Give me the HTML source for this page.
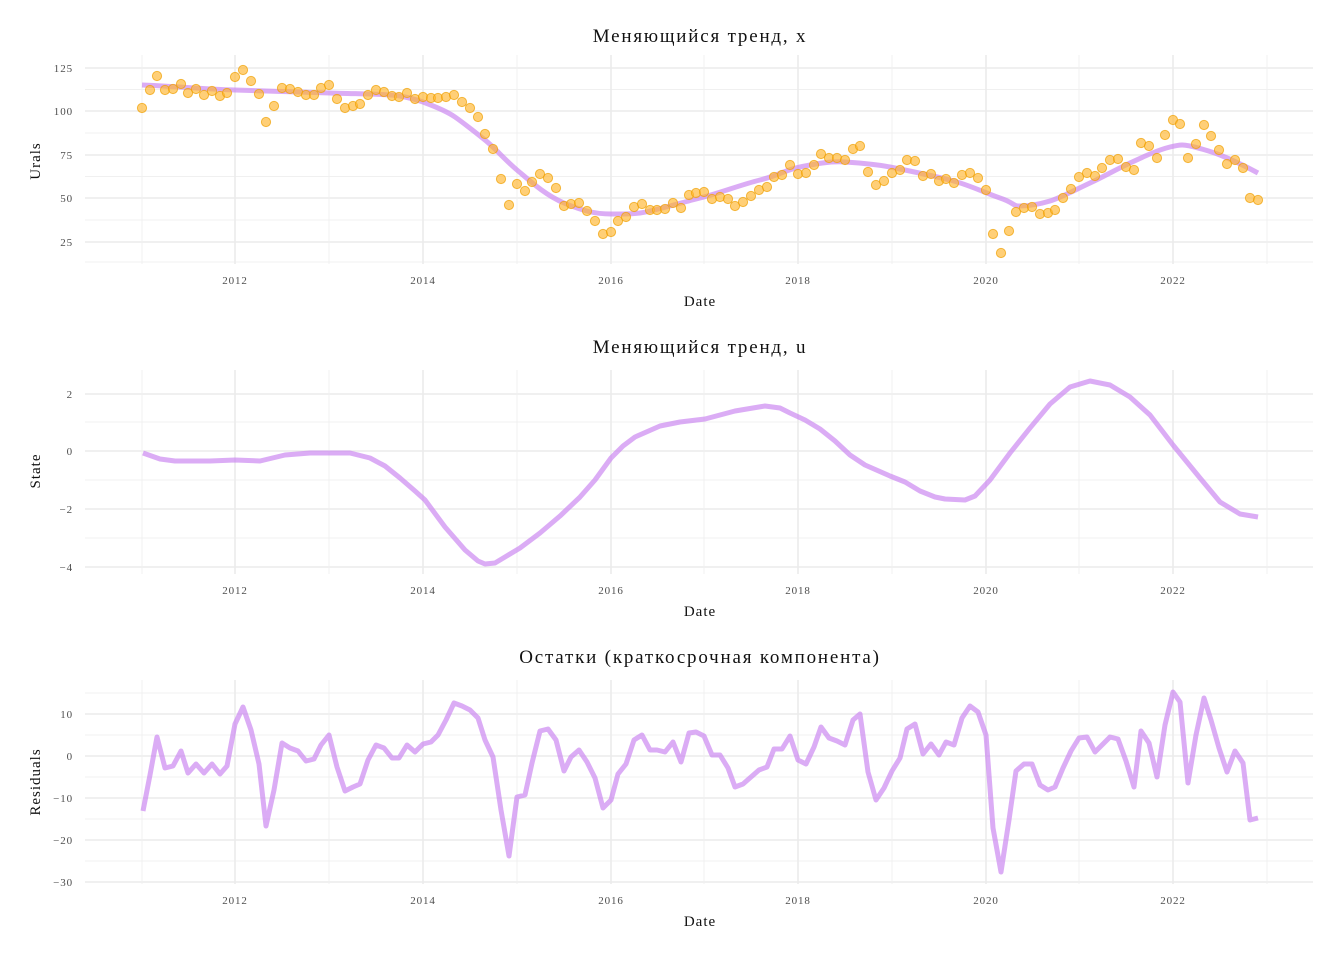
<!DOCTYPE html>
<html><head><meta charset="utf-8"><style>
body{margin:0;background:#fff}
svg{display:block;font-family:"Liberation Serif",serif}
.maj{stroke:#ebebeb;stroke-width:1.6}
.min{stroke:#f0f0f0;stroke-width:0.9}
.tk{font-size:11px;fill:#4d4d4d;letter-spacing:0.9px}
.ttl{font-size:19px;fill:#111;text-anchor:middle;letter-spacing:1.8px}
.ax{font-size:15px;fill:#111;text-anchor:middle;letter-spacing:1px}
.ln{fill:none;stroke:#c77ff0;stroke-opacity:0.65;stroke-width:5;stroke-linejoin:round}
.pt{fill:#ffb52e;fill-opacity:0.65;stroke:#f0a000;stroke-opacity:0.7;stroke-width:1}
</style></head><body>
<svg width="1344" height="960" viewBox="0 0 1344 960">
<!-- Panel 1 -->
<g>
<line class="min" x1="85" x2="1313" y1="89.5" y2="89.5"/><line class="min" x1="85" x2="1313" y1="133" y2="133"/><line class="min" x1="85" x2="1313" y1="176.5" y2="176.5"/><line class="min" x1="85" x2="1313" y1="220" y2="220"/><line class="min" x1="85" x2="1313" y1="262" y2="262"/>
<line class="maj" x1="85" x2="1313" y1="68" y2="68"/><line class="maj" x1="85" x2="1313" y1="111" y2="111"/><line class="maj" x1="85" x2="1313" y1="155" y2="155"/><line class="maj" x1="85" x2="1313" y1="198" y2="198"/><line class="maj" x1="85" x2="1313" y1="242" y2="242"/>
<g class="min"><line x1="142" x2="142" y1="55" y2="264"/><line x1="329" x2="329" y1="55" y2="264"/><line x1="517" x2="517" y1="55" y2="264"/><line x1="704" x2="704" y1="55" y2="264"/><line x1="892" x2="892" y1="55" y2="264"/><line x1="1079" x2="1079" y1="55" y2="264"/><line x1="1267" x2="1267" y1="55" y2="264"/></g>
<g class="maj"><line x1="235" x2="235" y1="55" y2="264"/><line x1="423" x2="423" y1="55" y2="264"/><line x1="611" x2="611" y1="55" y2="264"/><line x1="798" x2="798" y1="55" y2="264"/><line x1="986" x2="986" y1="55" y2="264"/><line x1="1173" x2="1173" y1="55" y2="264"/></g>
<g class="tk" text-anchor="end"><text x="73" y="72">125</text><text x="73" y="115">100</text><text x="73" y="159">75</text><text x="73" y="202">50</text><text x="73" y="246">25</text></g>
<g class="tk" text-anchor="middle"><text x="235" y="284">2012</text><text x="423" y="284">2014</text><text x="611" y="284">2016</text><text x="798" y="284">2018</text><text x="986" y="284">2020</text><text x="1173" y="284">2022</text></g>
<text class="ttl" x="700" y="42">Меняющийся тренд, x</text>
<text class="ax" x="700" y="306">Date</text>
<text class="ax" transform="translate(40,161) rotate(-90)">Urals</text>
<path class="ln" d="M142,85 C190,87 200,89 235,90 S300,92 330,93 S390,94 400,96 S415,99 423,102 S445,110 455,117 S475,132 485,140 S505,160 517,170 S545,195 564,203 S595,214 611,214 S630,214 640,213 S680,203 700,198 S740,185 760,180 S785,170 800,167 S830,161 845,162 S875,164 890,167 S930,175 950,180 S985,193 1000,198 S1012,206 1020,206 S1040,204 1050,201 S1075,190 1090,183 S1115,170 1130,163 S1158,150 1170,147 S1185,145 1190,146 S1210,151 1220,155 S1245,166 1258,173"/>
<g class="pt">
<circle cx="142" cy="108" r="4.6"/><circle cx="150" cy="90" r="4.6"/><circle cx="157" cy="76" r="4.6"/><circle cx="165" cy="90" r="4.6"/><circle cx="173" cy="89" r="4.6"/><circle cx="181" cy="84" r="4.6"/><circle cx="188" cy="93" r="4.6"/><circle cx="196" cy="89" r="4.6"/><circle cx="204" cy="95" r="4.6"/><circle cx="212" cy="91" r="4.6"/><circle cx="220" cy="96" r="4.6"/><circle cx="227" cy="93" r="4.6"/><circle cx="235" cy="77" r="4.6"/><circle cx="243" cy="70" r="4.6"/><circle cx="251" cy="81" r="4.6"/><circle cx="259" cy="94" r="4.6"/><circle cx="266" cy="122" r="4.6"/><circle cx="274" cy="106" r="4.6"/><circle cx="282" cy="88" r="4.6"/><circle cx="290" cy="89" r="4.6"/><circle cx="298" cy="92" r="4.6"/><circle cx="306" cy="95" r="4.6"/><circle cx="314" cy="95" r="4.6"/><circle cx="321" cy="88" r="4.6"/><circle cx="329" cy="85" r="4.6"/><circle cx="337" cy="99" r="4.6"/><circle cx="345" cy="108" r="4.6"/><circle cx="353" cy="106" r="4.6"/><circle cx="360" cy="104" r="4.6"/><circle cx="368" cy="95" r="4.6"/><circle cx="376" cy="90" r="4.6"/><circle cx="384" cy="92" r="4.6"/><circle cx="392" cy="96" r="4.6"/><circle cx="399" cy="97" r="4.6"/><circle cx="407" cy="93" r="4.6"/><circle cx="415" cy="99" r="4.6"/><circle cx="423" cy="97" r="4.6"/><circle cx="431" cy="98" r="4.6"/><circle cx="438" cy="98" r="4.6"/><circle cx="446" cy="97" r="4.6"/><circle cx="454" cy="95" r="4.6"/><circle cx="462" cy="102" r="4.6"/><circle cx="470" cy="108" r="4.6"/><circle cx="478" cy="117" r="4.6"/><circle cx="485" cy="134" r="4.6"/><circle cx="493" cy="149" r="4.6"/><circle cx="501" cy="179" r="4.6"/><circle cx="509" cy="205" r="4.6"/><circle cx="517" cy="184" r="4.6"/><circle cx="525" cy="191" r="4.6"/><circle cx="532" cy="182" r="4.6"/><circle cx="540" cy="174" r="4.6"/><circle cx="548" cy="178" r="4.6"/><circle cx="556" cy="188" r="4.6"/><circle cx="564" cy="206" r="4.6"/><circle cx="571" cy="204" r="4.6"/><circle cx="579" cy="203" r="4.6"/><circle cx="587" cy="211" r="4.6"/><circle cx="595" cy="221" r="4.6"/><circle cx="603" cy="234" r="4.6"/><circle cx="611" cy="232" r="4.6"/><circle cx="618" cy="221" r="4.6"/><circle cx="626" cy="217" r="4.6"/><circle cx="634" cy="207" r="4.6"/><circle cx="642" cy="204" r="4.6"/><circle cx="650" cy="210" r="4.6"/><circle cx="657" cy="210" r="4.6"/><circle cx="665" cy="209" r="4.6"/><circle cx="673" cy="203" r="4.6"/><circle cx="681" cy="208" r="4.6"/><circle cx="689" cy="195" r="4.6"/><circle cx="696" cy="193" r="4.6"/><circle cx="704" cy="192" r="4.6"/><circle cx="712" cy="199" r="4.6"/><circle cx="720" cy="197" r="4.6"/><circle cx="728" cy="199" r="4.6"/><circle cx="735" cy="206" r="4.6"/><circle cx="743" cy="202" r="4.6"/><circle cx="751" cy="196" r="4.6"/><circle cx="759" cy="190" r="4.6"/><circle cx="767" cy="187" r="4.6"/><circle cx="774" cy="177" r="4.6"/><circle cx="782" cy="175" r="4.6"/><circle cx="790" cy="165" r="4.6"/><circle cx="798" cy="174" r="4.6"/><circle cx="806" cy="173" r="4.6"/><circle cx="814" cy="165" r="4.6"/><circle cx="821" cy="154" r="4.6"/><circle cx="829" cy="158" r="4.6"/><circle cx="837" cy="158" r="4.6"/><circle cx="845" cy="160" r="4.6"/><circle cx="853" cy="149" r="4.6"/><circle cx="860" cy="146" r="4.6"/><circle cx="868" cy="172" r="4.6"/><circle cx="876" cy="185" r="4.6"/><circle cx="884" cy="181" r="4.6"/><circle cx="892" cy="173" r="4.6"/><circle cx="900" cy="170" r="4.6"/><circle cx="907" cy="160" r="4.6"/><circle cx="915" cy="161" r="4.6"/><circle cx="923" cy="176" r="4.6"/><circle cx="931" cy="174" r="4.6"/><circle cx="939" cy="181" r="4.6"/><circle cx="946" cy="179" r="4.6"/><circle cx="954" cy="183" r="4.6"/><circle cx="962" cy="175" r="4.6"/><circle cx="970" cy="173" r="4.6"/><circle cx="978" cy="178" r="4.6"/><circle cx="986" cy="190" r="4.6"/><circle cx="993" cy="234" r="4.6"/><circle cx="1001" cy="253" r="4.6"/><circle cx="1009" cy="231" r="4.6"/><circle cx="1016" cy="212" r="4.6"/><circle cx="1024" cy="208" r="4.6"/><circle cx="1032" cy="207" r="4.6"/><circle cx="1040" cy="214" r="4.6"/><circle cx="1048" cy="213" r="4.6"/><circle cx="1055" cy="210" r="4.6"/><circle cx="1063" cy="198" r="4.6"/><circle cx="1071" cy="189" r="4.6"/><circle cx="1079" cy="177" r="4.6"/><circle cx="1087" cy="173" r="4.6"/><circle cx="1095" cy="176" r="4.6"/><circle cx="1102" cy="168" r="4.6"/><circle cx="1110" cy="160" r="4.6"/><circle cx="1118" cy="159" r="4.6"/><circle cx="1126" cy="167" r="4.6"/><circle cx="1134" cy="170" r="4.6"/><circle cx="1141" cy="143" r="4.6"/><circle cx="1149" cy="146" r="4.6"/><circle cx="1157" cy="158" r="4.6"/><circle cx="1165" cy="135" r="4.6"/><circle cx="1173" cy="120" r="4.6"/><circle cx="1180" cy="124" r="4.6"/><circle cx="1188" cy="158" r="4.6"/><circle cx="1196" cy="144" r="4.6"/><circle cx="1204" cy="125" r="4.6"/><circle cx="1211" cy="136" r="4.6"/><circle cx="1219" cy="150" r="4.6"/><circle cx="1227" cy="164" r="4.6"/><circle cx="1235" cy="160" r="4.6"/><circle cx="1243" cy="168" r="4.6"/><circle cx="1250" cy="198" r="4.6"/><circle cx="1258" cy="200" r="4.6"/>
</g>
</g>
<!-- Panel 2 -->
<g>
<line class="min" x1="85" x2="1313" y1="422" y2="422"/><line class="min" x1="85" x2="1313" y1="480" y2="480"/><line class="min" x1="85" x2="1313" y1="538" y2="538"/>
<line class="maj" x1="85" x2="1313" y1="394" y2="394"/><line class="maj" x1="85" x2="1313" y1="451" y2="451"/><line class="maj" x1="85" x2="1313" y1="509" y2="509"/><line class="maj" x1="85" x2="1313" y1="567" y2="567"/>
<g class="min"><line x1="142" x2="142" y1="370" y2="574"/><line x1="329" x2="329" y1="370" y2="574"/><line x1="517" x2="517" y1="370" y2="574"/><line x1="704" x2="704" y1="370" y2="574"/><line x1="892" x2="892" y1="370" y2="574"/><line x1="1079" x2="1079" y1="370" y2="574"/><line x1="1267" x2="1267" y1="370" y2="574"/></g>
<g class="maj"><line x1="235" x2="235" y1="370" y2="574"/><line x1="423" x2="423" y1="370" y2="574"/><line x1="611" x2="611" y1="370" y2="574"/><line x1="798" x2="798" y1="370" y2="574"/><line x1="986" x2="986" y1="370" y2="574"/><line x1="1173" x2="1173" y1="370" y2="574"/></g>
<g class="tk" text-anchor="end"><text x="73" y="398">2</text><text x="73" y="455">0</text><text x="73" y="513">−2</text><text x="73" y="571">−4</text></g>
<g class="tk" text-anchor="middle"><text x="235" y="594">2012</text><text x="423" y="594">2014</text><text x="611" y="594">2016</text><text x="798" y="594">2018</text><text x="986" y="594">2020</text><text x="1173" y="594">2022</text></g>
<text class="ttl" x="700" y="353">Меняющийся тренд, u</text>
<text class="ax" x="700" y="616">Date</text>
<text class="ax" transform="translate(40,471) rotate(-90)">State</text>
<path class="ln" d="M143,453 L160,459 L175,461 L210,461 L235,460 L260,461 L285,455 L310,453 L350,453 L370,458 L385,466 L400,478 L415,491 L425,500 L445,527 L465,550 L478,561 L485,564 L495,563 L505,557 L520,548 L540,533 L560,516 L580,497 L595,480 L611,458 L623,446 L635,437 L660,426 L680,422 L705,419 L735,411 L765,406 L780,408 L790,413 L805,420 L820,429 L835,441 L850,455 L865,465 L890,476 L905,482 L920,491 L935,497 L945,499 L965,500 L975,496 L990,480 L1010,453 L1030,428 L1050,404 L1070,387 L1090,381 L1110,385 L1130,397 L1150,415 L1173,445 L1200,478 L1220,502 L1240,514 L1258,517"/>
</g>
<!-- Panel 3 -->
<g>
<line class="min" x1="85" x2="1313" y1="693" y2="693"/><line class="min" x1="85" x2="1313" y1="735" y2="735"/><line class="min" x1="85" x2="1313" y1="777" y2="777"/><line class="min" x1="85" x2="1313" y1="819" y2="819"/><line class="min" x1="85" x2="1313" y1="861" y2="861"/>
<line class="maj" x1="85" x2="1313" y1="714" y2="714"/><line class="maj" x1="85" x2="1313" y1="756" y2="756"/><line class="maj" x1="85" x2="1313" y1="798" y2="798"/><line class="maj" x1="85" x2="1313" y1="840" y2="840"/><line class="maj" x1="85" x2="1313" y1="882" y2="882"/>
<g class="min"><line x1="142" x2="142" y1="680" y2="884"/><line x1="329" x2="329" y1="680" y2="884"/><line x1="517" x2="517" y1="680" y2="884"/><line x1="704" x2="704" y1="680" y2="884"/><line x1="892" x2="892" y1="680" y2="884"/><line x1="1079" x2="1079" y1="680" y2="884"/><line x1="1267" x2="1267" y1="680" y2="884"/></g>
<g class="maj"><line x1="235" x2="235" y1="680" y2="884"/><line x1="423" x2="423" y1="680" y2="884"/><line x1="611" x2="611" y1="680" y2="884"/><line x1="798" x2="798" y1="680" y2="884"/><line x1="986" x2="986" y1="680" y2="884"/><line x1="1173" x2="1173" y1="680" y2="884"/></g>
<g class="tk" text-anchor="end"><text x="73" y="718">10</text><text x="73" y="760">0</text><text x="73" y="802">−10</text><text x="73" y="844">−20</text><text x="73" y="886">−30</text></g>
<g class="tk" text-anchor="middle"><text x="235" y="904">2012</text><text x="423" y="904">2014</text><text x="611" y="904">2016</text><text x="798" y="904">2018</text><text x="986" y="904">2020</text><text x="1173" y="904">2022</text></g>
<text class="ttl" x="700" y="663">Остатки (краткосрочная компонента)</text>
<text class="ax" x="700" y="926">Date</text>
<text class="ax" transform="translate(40,782) rotate(-90)">Residuals</text>
<path class="ln" d="M143,811 L150,775 L157,737 L165,768 L173,766 L181,751 L188,773 L196,764 L204,773 L212,764 L220,774 L227,766 L235,724 L243,707 L251,730 L259,764 L266,826 L274,790 L282,743 L290,748 L298,751 L306,761 L314,759 L321,745 L329,735 L337,767 L345,791 L353,787 L360,784 L368,760 L376,745 L384,748 L392,758 L399,758 L407,745 L415,752 L423,744 L431,742 L438,735 L446,720 L454,703 L462,706 L470,710 L478,718 L485,740 L493,757 L501,810 L509,856 L517,797 L525,795 L532,763 L540,731 L548,729 L556,740 L564,771 L571,757 L579,750 L587,762 L595,778 L603,808 L611,800 L618,774 L626,764 L634,740 L642,735 L650,750 L657,750 L665,752 L673,742 L681,762 L689,733 L696,732 L704,736 L712,755 L720,755 L728,768 L735,787 L743,784 L751,777 L759,770 L767,767 L774,749 L782,749 L790,736 L798,760 L806,764 L814,747 L821,727 L829,738 L837,741 L845,745 L853,720 L860,714 L868,772 L876,800 L884,788 L892,771 L900,758 L907,729 L915,724 L923,754 L931,744 L939,755 L946,742 L954,745 L962,718 L970,706 L978,712 L986,735 L993,828 L1001,872 L1009,820 L1016,771 L1024,764 L1032,764 L1040,785 L1048,790 L1055,787 L1063,768 L1071,751 L1079,738 L1087,737 L1095,752 L1102,745 L1110,737 L1118,739 L1126,761 L1134,787 L1141,731 L1149,743 L1157,777 L1165,725 L1173,692 L1180,702 L1188,783 L1196,735 L1204,698 L1211,720 L1219,748 L1227,772 L1235,751 L1243,763 L1250,820 L1258,818"/>
</g>
</svg>
</body></html>
